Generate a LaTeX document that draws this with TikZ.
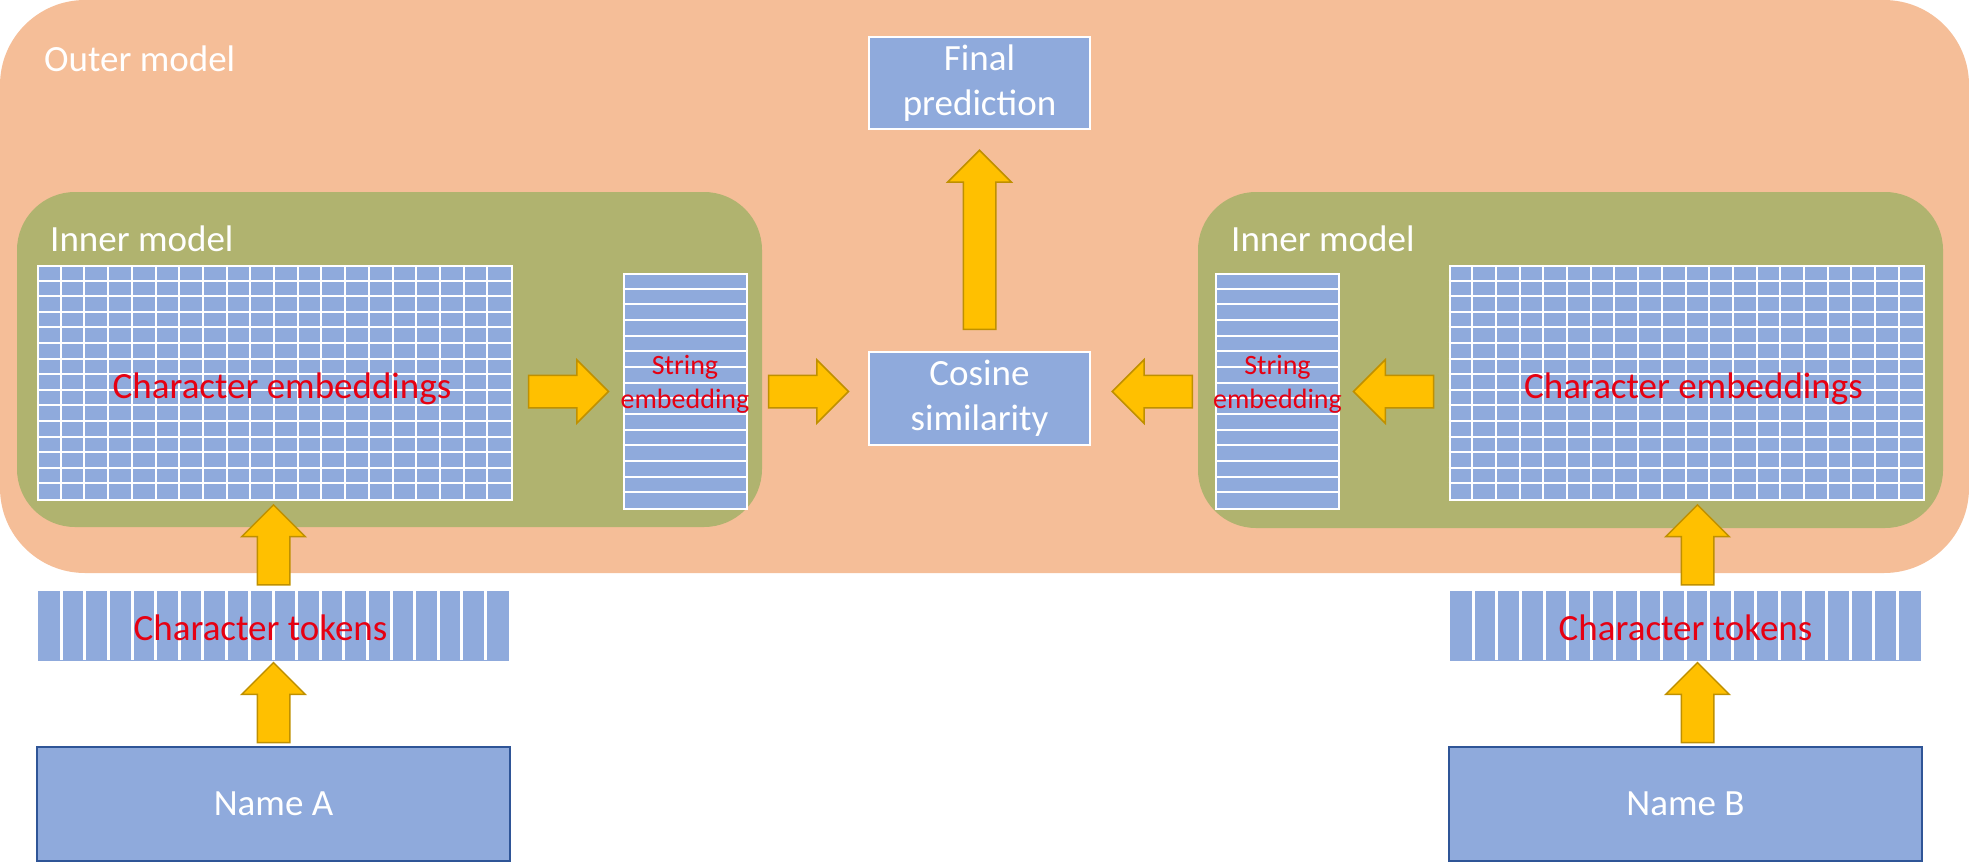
\documentclass[tikz,border=0pt]{standalone}
\usepackage{fontspec}
\setmainfont{Carlito}
\usetikzlibrary{shapes.arrows}
\definecolor{outerfill}{RGB}{245,190,152}
\definecolor{innerfill}{RGB}{176,179,111}
\definecolor{cellblue}{RGB}{143,170,220}
\definecolor{nameedge}{RGB}{47,85,151}
\definecolor{arrowfill}{RGB}{255,192,0}
\definecolor{arrowedge}{RGB}{191,144,0}
\definecolor{labelred}{RGB}{230,0,18}
\newcommand\diagfont{\fontsize{37}{45}\selectfont}
\newcommand\strfont{\fontsize{28}{34}\selectfont}

\begin{document}
\begin{tikzpicture}[x=1pt,y=-1pt,
  cellbox/.style={fill=cellblue,draw=white,line width=2pt,inner sep=0pt},
  cellline/.style={white,line width=2pt},
  whitetext/.style={text=white,font=\diagfont,inner sep=0pt,align=center},
  redtext/.style={text=labelred,font=\diagfont,inner sep=0pt,align=center},
  namebox/.style={fill=cellblue,draw=nameedge,line width=2pt,minimum width=473pt,minimum height=114pt,text=white,font=\diagfont},
  fatarrow/.style={single arrow,fill=arrowfill,draw=arrowedge,line width=1.5pt,single arrow head extend=15.5pt,single arrow tip angle=90,anchor=tail},
  rightfat/.style={fatarrow,inner xsep=0pt,inner ysep=15.5pt,minimum height=80pt,xshift=-40pt},
  leftfat/.style={fatarrow,shape border rotate=180,inner xsep=0pt,inner ysep=15.5pt,minimum height=80pt,xshift=40pt},
  upfat/.style={fatarrow,shape border rotate=90,inner xsep=15.5pt,inner ysep=0pt,minimum height=#1,yshift=-#1/2},
  upfat/.default=80pt]
\useasboundingbox (0,0) rectangle (1969,862);
\fill[outerfill,rounded corners=85pt] (0,0) rectangle (1969,573);
\node[whitetext,anchor=base west] (outerlbl) at (44,71) {Outer model};
\fill[innerfill,rounded corners=58pt] (17,192) rectangle (762,527);
\fill[innerfill,rounded corners=58pt] (1198,192) rectangle (1943,528);
\node[whitetext,anchor=base west] (innerlblA) at (50,251) {Inner model};
\node[whitetext,anchor=base west] (innerlblB) at (1231,251) {Inner model};

\foreach \s/\gx/\sx/\tx/\dx in {A/275/685/273.5/-13,B/1686.5/1277.5/1685.5/0}{
  \node[cellbox,minimum width=474pt,minimum height=234pt] (cemb\s) at (\gx,383) {};
  \begin{scope}[shift={(cemb\s.north west)}]
    \foreach \i in {1,...,19} \draw[cellline] (\i*23.7,0) -- (\i*23.7,234);
    \foreach \j in {1,...,14} \draw[cellline] (0,\j*15.6) -- (474,\j*15.6);
  \end{scope}
  \node[redtext,xshift=7pt,yshift=-6pt] (cembtxt\s) at (cemb\s) {Character embeddings};
  \node[cellbox,minimum width=123pt,minimum height=235pt] (str\s) at (\sx,391.5) {};
  \begin{scope}[shift={(str\s.north west)}]
    \foreach \j in {1,...,14} \draw[cellline] (0,\j*15.67) -- (123,\j*15.67);
  \end{scope}
  \node[redtext,font=\strfont,yshift=7pt] (strtxt\s) at (str\s) {String\\embedding};
  \node[fill=cellblue,inner sep=0pt,minimum width=471pt,minimum height=70pt] (tok\s) at (\tx,625.5) {};
  \begin{scope}[shift={(tok\s.north west)}]
    \foreach \i in {1,...,19} \draw[white,line width=3pt] (\i*23.55,0) -- (\i*23.55,70);
  \end{scope}
  \node[redtext,xshift=\dx,yshift=-2pt] (toktxt\s) at (tok\s) {Character tokens};
  \node[namebox] (name\s) at (\tx,804) {Name \s};
}

\node[cellbox,whitetext,minimum width=221pt,minimum height=93pt] (cos) at (979.5,398.5) {Cosine\\similarity};
\node[cellbox,whitetext,minimum width=221pt,minimum height=92pt] (fin) at (979.5,83) {Final\\prediction};

\path (cembA.east |- strA) -- node[rightfat] (arrA1) {} (strA.west);
\path (strA.east) -- node[rightfat] (arrA2) {} (strA.east -| cos.west);
\path (strB.west) -- node[leftfat] (arrB2) {} (strB.west -| cos.east);
\path (strB.east) -- node[leftfat] (arrB1) {} (strB.east -| cembB.west);
\path (cos.north) -- node[upfat=179pt] (arrfin) {} (fin.south);
\path (tokA.north) -- node[upfat] (arrA0) {} (tokA.north |- cembA.south);
\path (nameA.north) -- node[upfat] (arrAin) {} (tokA.south);
\coordinate (tokBup) at ([xshift=12pt]tokB.north);
\coordinate (nameBup) at ([xshift=12pt]nameB.north);
\path (tokBup) -- node[upfat] (arrB0) {} (tokBup |- cembB.south);
\path (nameBup) -- node[upfat] (arrBin) {} (nameBup |- tokB.south);
\end{tikzpicture}
\end{document}
